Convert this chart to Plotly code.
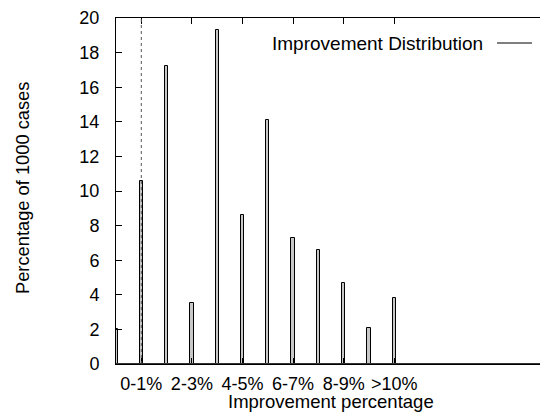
import plotly.graph_objects as go

# Data
bar_positions = [0, 1, 2, 3, 4, 5, 6, 7, 8, 9, 10, 11]
bar_values = [2.0, 10.6, 17.2, 3.5, 19.3, 8.6, 14.1, 7.3, 6.6, 4.7, 2.1, 3.8]
tick_positions = [1, 3, 5, 7, 9, 11]
tick_labels = ["0-1%", "2-3%", "4-5%", "6-7%", "8-9%", ">10%"]
y_ticks = [0, 2, 4, 6, 8, 10, 12, 14, 16, 18, 20]
series_name = "Improvement Distribution"

FONT = "Liberation Sans, Arial, sans-serif"
W, H = 540, 412
L, R, T, B = 116, 0, 18, 48
pw, ph = W - L - R, H - T - B
xmax = 16.76

def px_x(p):
    return (p - L) / pw

def px_y(p):
    return (H - B - p) / ph

fig = go.Figure()
fig.add_trace(go.Bar(
    x=bar_positions, y=bar_values, width=0.13, name=series_name,
    marker=dict(color="#c8c8c8", line=dict(color="black", width=1)),
    showlegend=False,
))

fig.update_layout(
    width=W, height=H,
    margin=dict(l=L, r=R, t=T, b=B, pad=0),
    paper_bgcolor="white", plot_bgcolor="white",
    font=dict(family=FONT, size=18, color="black"),
    xaxis=dict(
        range=[0, xmax], tickvals=tick_positions, ticktext=tick_labels,
        ticks="inside", ticklen=6, tickcolor="black", showline=True,
        linecolor="black", linewidth=1, mirror="ticks", showgrid=False,
        zeroline=False, tickfont=dict(size=18), ticklabelstandoff=3,
    ),
    yaxis=dict(
        range=[0, 20], tickvals=y_ticks, ticks="inside", ticklen=6,
        tickcolor="black", showline=True, linecolor="black", linewidth=1,
        mirror=False, showgrid=False, zeroline=False, tickfont=dict(size=18),
        ticklabelstandoff=12,
    ),
    bargap=0,
)

# dotted reference line at x=1
fig.add_shape(type="line", xref="x", yref="y", x0=1, x1=1, y0=0, y1=20,
              line=dict(color="#555555", width=1, dash="dot"))
# thicker baseline
fig.add_shape(type="line", xref="paper", yref="y", x0=0, x1=1, y0=0, y1=0,
              line=dict(color="#333333", width=2))

# axis titles
fig.add_annotation(text="Improvement percentage", xref="paper", yref="paper",
                   x=px_x(331), y=px_y(401), xanchor="center", yanchor="middle",
                   showarrow=False, font=dict(size=18.5))
fig.add_annotation(text="Percentage of 1000 cases", xref="paper", yref="paper",
                   x=px_x(22), y=px_y(188), xanchor="center", yanchor="middle",
                   textangle=-90, showarrow=False, font=dict(size=18.3))

# legend (gnuplot style: text then line sample)
fig.add_annotation(text=series_name, xref="paper", yref="paper",
                   x=px_x(485), y=px_y(43), xanchor="right", yanchor="middle",
                   showarrow=False, font=dict(size=19))
fig.add_shape(type="line", xref="paper", yref="paper",
              x0=px_x(497), x1=px_x(532), y0=px_y(43), y1=px_y(43),
              line=dict(color="black", width=1))

fig.write_html("out.html", config={"displayModeBar": False},
               post_script="document.body.style.margin='0';document.body.style.overflow='hidden';")
